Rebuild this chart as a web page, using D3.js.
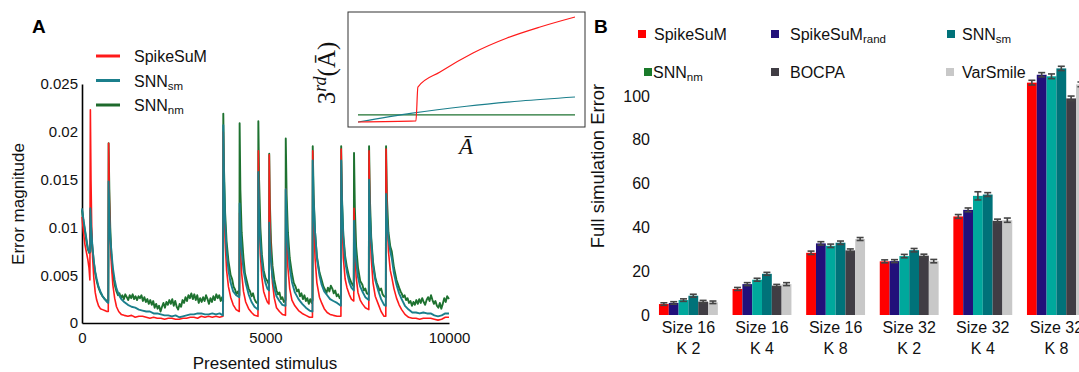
<!DOCTYPE html>
<html>
<head>
<meta charset="utf-8">
<script src="https://cdn.jsdelivr.net/npm/d3@7"></script>
<style>
  body { margin: 0; background: #fff; }
  svg { font-family: "Liberation Sans", Arial, sans-serif; display: block; }
</style>
</head>
<body>
<svg id="chart" width="1079" height="372"></svg>
<script>
// ---- Panel A: error magnitude over presented stimuli ----
const spikeSuM = [
  [0,0.0111],[40,0.0095],[80,0.0082],[120,0.0074],[160,0.0066],[190,0.0058],[215,0.0045],[228,0.0223],[245,0.0150],[265,0.0100],[290,0.0068],[320,0.0048],[360,0.0032],[400,0.0024],[450,0.0018],[500,0.0015],[560,0.0014],[620,0.0013],[680,0.0012],[716,0.0012],
  [725,0.0188],[745,0.0130],[770,0.0088],[800,0.0062],[840,0.0040],[890,0.0026],[940,0.0017],[1000,0.0012],[1070,0.0009],[1150,0.0008],[1250,0.0007],[1350,0.0008],[1450,0.0006],[1550,0.0007],[1650,0.0007],[1750,0.0006],[1850,0.0005],[1950,0.0006],[2050,0.0005],[2150,0.0005],[2250,0.0004],[2350,0.0005],[2450,0.0005],[2550,0.0004],[2650,0.0004],[2750,0.0005],[2850,0.0005],[2950,0.0006],[3050,0.0006],[3150,0.0005],[3250,0.0007],[3350,0.0006],[3450,0.0007],[3550,0.0006],[3650,0.0007],[3750,0.0006],[3840,0.0007],
  [3850,0.0200],[3870,0.0130],[3900,0.0085],[3940,0.0055],[3990,0.0038],[4050,0.0027],[4120,0.0019],[4200,0.0014],[4285,0.0012],
  [4295,0.0115],[4315,0.0080],[4350,0.0052],[4400,0.0033],[4460,0.0022],[4540,0.0015],[4620,0.0011],[4700,0.0008],[4795,0.0007],
  [4805,0.0180],[4825,0.0115],[4860,0.0072],[4900,0.0048],[4950,0.0033],[5000,0.0027],[5050,0.0022],[5095,0.0020],
  [5102,0.0176],[5120,0.0110],[5150,0.0068],[5190,0.0042],[5240,0.0026],[5300,0.0016],[5380,0.0012],[5460,0.0009],[5545,0.0008],
  [5552,0.0140],[5575,0.0090],[5610,0.0058],[5660,0.0036],[5720,0.0024],[5800,0.0018],[5900,0.0013],[6000,0.0010],[6100,0.0008],[6200,0.0006],[6280,0.0006],
  [6287,0.0180],[6310,0.0115],[6350,0.0068],[6400,0.0042],[6470,0.0027],[6530,0.0021],[6600,0.0015],[6680,0.0011],[6760,0.0009],[6850,0.0008],[6950,0.0007],[7055,0.0007],
  [7062,0.0182],[7085,0.0110],[7120,0.0068],[7170,0.0046],[7220,0.0037],[7280,0.0030],[7340,0.0025],[7405,0.0023],
  [7412,0.0120],[7435,0.0075],[7470,0.0048],[7520,0.0032],[7580,0.0024],[7640,0.0020],[7720,0.0016],[7815,0.0014],
  [7822,0.0180],[7845,0.0112],[7880,0.0068],[7930,0.0042],[7990,0.0028],[8070,0.0020],[8150,0.0012],[8230,0.0007],[8278,0.0007],
  [8285,0.0182],[8310,0.0115],[8350,0.0075],[8400,0.0055],[8440,0.0048],[8500,0.0036],[8570,0.0026],[8640,0.0019],[8710,0.0014],[8800,0.0009],[8900,0.0006],[9000,0.0005],[9100,0.0005],[9200,0.0004],[9300,0.0005],[9400,0.0005],[9500,0.0005],[9600,0.0004],[9700,0.0003],[9800,0.0004],[9900,0.0006],[10000,0.0006]
];

const snnSm = [
  [0,0.0120],[40,0.0108],[80,0.0098],[120,0.0088],[160,0.0078],[200,0.0074],[225,0.0075],[228,0.0120],[250,0.0100],[280,0.0082],[320,0.0065],[360,0.0054],[400,0.0046],[450,0.0038],[500,0.0033],[560,0.0028],[620,0.0025],[680,0.0022],[716,0.0021],
  [725,0.0148],[745,0.0115],[770,0.0090],[800,0.0075],[840,0.0058],[890,0.0045],[940,0.0036],[1000,0.0030],[1070,0.0025],[1150,0.0022],[1250,0.0019],[1350,0.0017],[1450,0.0016],[1550,0.0014],[1650,0.0013],[1750,0.0012],[1850,0.0012],[1950,0.0010],[2050,0.0010],[2150,0.0009],[2250,0.0008],[2350,0.0008],[2450,0.0007],[2550,0.0008],[2650,0.0006],[2750,0.0007],[2850,0.0008],[2950,0.0009],[3050,0.0009],[3150,0.0010],[3250,0.0010],[3350,0.0009],[3450,0.0009],[3550,0.0010],[3650,0.0009],[3750,0.0010],[3840,0.0008],
  [3850,0.0207],[3870,0.0150],[3900,0.0105],[3940,0.0075],[3990,0.0055],[4050,0.0042],[4120,0.0033],[4200,0.0029],[4285,0.0027],
  [4295,0.0125],[4315,0.0100],[4350,0.0075],[4400,0.0056],[4460,0.0042],[4540,0.0030],[4620,0.0022],[4700,0.0017],[4795,0.0014],
  [4805,0.0158],[4825,0.0115],[4860,0.0085],[4900,0.0065],[4950,0.0050],[5000,0.0042],[5050,0.0036],[5095,0.0034],
  [5102,0.0105],[5120,0.0085],[5150,0.0065],[5190,0.0048],[5240,0.0036],[5300,0.0028],[5380,0.0023],[5460,0.0019],[5545,0.0018],
  [5552,0.0140],[5575,0.0110],[5610,0.0080],[5660,0.0058],[5720,0.0043],[5800,0.0032],[5900,0.0025],[6000,0.0020],[6100,0.0016],[6200,0.0013],[6280,0.0012],
  [6287,0.0170],[6310,0.0130],[6350,0.0095],[6400,0.0068],[6470,0.0050],[6530,0.0040],[6600,0.0033],[6680,0.0029],[6760,0.0025],[6850,0.0023],[6950,0.0021],[7055,0.0018],
  [7062,0.0170],[7085,0.0125],[7120,0.0090],[7170,0.0065],[7220,0.0053],[7280,0.0043],[7340,0.0037],[7405,0.0034],
  [7412,0.0107],[7435,0.0085],[7470,0.0065],[7520,0.0048],[7580,0.0038],[7640,0.0033],[7720,0.0027],[7815,0.0024],
  [7822,0.0150],[7845,0.0115],[7880,0.0085],[7930,0.0060],[7990,0.0045],[8070,0.0034],[8150,0.0025],[8230,0.0019],[8278,0.0018],
  [8285,0.0135],[8310,0.0110],[8350,0.0088],[8400,0.0075],[8440,0.0068],[8500,0.0052],[8570,0.0040],[8640,0.0031],[8710,0.0025],[8800,0.0018],[8900,0.0014],[9000,0.0011],[9100,0.0011],[9200,0.0010],[9300,0.0011],[9400,0.0010],[9500,0.0010],[9600,0.0008],[9700,0.0007],[9800,0.0008],[9900,0.0010],[10000,0.0010]
];

const snnNm = [
  [0,0.0118],[40,0.0106],[80,0.0096],[120,0.0086],[160,0.0077],[200,0.0073],[225,0.0074],[228,0.0118],[250,0.0098],[280,0.0080],[320,0.0064],[360,0.0052],[400,0.0044],[450,0.0037],[500,0.0032],[560,0.0028],[620,0.0025],[680,0.0023],[716,0.0023],
  [725,0.0188],[745,0.0140],[770,0.0100],[800,0.0072],[840,0.0052],[890,0.0040],[940,0.0033],[980,0.0029],[1020,0.0031],[1060,0.0026],[1100,0.0029],[1140,0.0025],[1180,0.0030],[1220,0.0027],[1260,0.0024],[1300,0.0029],[1340,0.0026],[1380,0.0030],[1420,0.0025],[1460,0.0028],[1500,0.0024],[1540,0.0028],[1580,0.0026],[1620,0.0029],[1660,0.0023],[1700,0.0027],[1740,0.0022],[1780,0.0025],[1820,0.0020],[1860,0.0024],[1900,0.0019],[1940,0.0023],[1980,0.0016],[2020,0.0020],[2060,0.0015],[2100,0.0018],[2140,0.0012],[2180,0.0017],[2220,0.0021],[2260,0.0016],[2300,0.0022],[2340,0.0019],[2380,0.0024],[2420,0.0020],[2460,0.0025],[2500,0.0018],[2540,0.0023],[2580,0.0017],[2620,0.0014],[2660,0.0020],[2700,0.0017],[2740,0.0024],[2780,0.0021],[2820,0.0027],[2860,0.0023],[2900,0.0029],[2940,0.0026],[2980,0.0031],[3020,0.0025],[3060,0.0030],[3100,0.0024],[3140,0.0029],[3180,0.0021],[3220,0.0026],[3260,0.0022],[3300,0.0027],[3340,0.0023],[3380,0.0029],[3420,0.0025],[3460,0.0020],[3500,0.0026],[3540,0.0022],[3580,0.0028],[3620,0.0024],[3660,0.0030],[3700,0.0026],[3740,0.0029],[3780,0.0023],[3820,0.0027],[3845,0.0022],
  [3850,0.0219],[3870,0.0160],[3900,0.0115],[3940,0.0085],[3990,0.0065],[4050,0.0050],[4090,0.0046],[4130,0.0038],[4170,0.0035],[4210,0.0030],[4250,0.0033],[4288,0.0029],
  [4295,0.0209],[4315,0.0140],[4350,0.0095],[4400,0.0068],[4440,0.0052],[4490,0.0044],[4540,0.0036],[4580,0.0033],[4620,0.0028],[4660,0.0031],[4700,0.0025],[4740,0.0022],[4798,0.0020],
  [4805,0.0211],[4825,0.0150],[4860,0.0100],[4900,0.0072],[4950,0.0055],[5000,0.0047],[5050,0.0044],[5095,0.0040],
  [5102,0.0177],[5120,0.0125],[5150,0.0085],[5190,0.0060],[5240,0.0045],[5300,0.0034],[5340,0.0030],[5380,0.0032],[5420,0.0025],[5460,0.0027],[5500,0.0022],[5546,0.0024],
  [5552,0.0193],[5575,0.0135],[5610,0.0095],[5660,0.0068],[5720,0.0052],[5770,0.0042],[5820,0.0038],[5860,0.0033],[5900,0.0035],[5940,0.0028],[5980,0.0031],[6020,0.0025],[6060,0.0029],[6100,0.0023],[6140,0.0026],[6180,0.0020],[6220,0.0025],[6260,0.0021],[6282,0.0024],
  [6287,0.0185],[6310,0.0135],[6350,0.0095],[6400,0.0070],[6470,0.0053],[6530,0.0045],[6580,0.0038],[6620,0.0035],[6660,0.0031],[6700,0.0037],[6740,0.0033],[6780,0.0039],[6820,0.0036],[6860,0.0031],[6900,0.0034],[6940,0.0028],[6980,0.0030],[7020,0.0026],[7056,0.0028],
  [7062,0.0185],[7085,0.0130],[7120,0.0092],[7170,0.0070],[7220,0.0058],[7280,0.0048],[7340,0.0042],[7405,0.0038],
  [7412,0.0178],[7435,0.0120],[7470,0.0080],[7520,0.0058],[7580,0.0044],[7640,0.0040],[7680,0.0034],[7720,0.0036],[7760,0.0031],[7816,0.0030],
  [7822,0.0185],[7845,0.0130],[7880,0.0090],[7930,0.0064],[7990,0.0048],[8030,0.0042],[8070,0.0038],[8110,0.0034],[8150,0.0036],[8190,0.0030],[8230,0.0028],[8279,0.0027],
  [8285,0.0185],[8310,0.0130],[8350,0.0095],[8400,0.0080],[8440,0.0075],[8500,0.0058],[8570,0.0045],[8640,0.0037],[8680,0.0033],[8710,0.0031],[8750,0.0027],[8790,0.0029],[8830,0.0024],[8870,0.0026],[8910,0.0021],[8950,0.0023],[8990,0.0018],[9030,0.0022],[9070,0.0019],[9110,0.0024],[9150,0.0020],[9190,0.0025],[9230,0.0021],[9270,0.0026],[9310,0.0022],[9350,0.0019],[9390,0.0024],[9430,0.0027],[9470,0.0023],[9510,0.0029],[9550,0.0024],[9590,0.0020],[9630,0.0023],[9670,0.0018],[9710,0.0016],[9750,0.0021],[9790,0.0015],[9830,0.0020],[9870,0.0026],[9910,0.0022],[9950,0.0028],[10000,0.0025]
];

const errorTicks = [0, 0.005, 0.01, 0.015, 0.02, 0.025];
const stimulusTicks = [0, 5000, 10000];

// Inset: third-order term vs. mean activity (arbitrary units)
const insetRed = [[0,0],[0.267,0.01],[0.276,0.333],[0.378,0.476],[0.53,0.657],[0.687,0.8],[0.839,0.905],[1,1]];
const insetTeal = [[0,0],[0.25,0.085],[0.5,0.15],[0.75,0.2],[1,0.238]];
const insetGreen = [[0,0.067],[1,0.067]];

// ---- Panel B: full simulation error ----
const groups = ["Size 16|K 2", "Size 16|K 4", "Size 16|K 8", "Size 32|K 2", "Size 32|K 4", "Size 32|K 8"];
const methods = ["SpikeSuM", "SpikeSuMrand", "SNNnm", "SNNsm", "BOCPA", "VarSmile"];
const barColors = ["#ff0000", "#22107a", "#00a89c", "#007279", "#403d44", "#c8c8c8"];
const fullError = [
  [5.0, 5.5, 6.8, 8.8, 6.1, 5.8],
  [11.9, 14.1, 16.1, 18.8, 13.4, 14.1],
  [28.4, 32.7, 31.6, 33.0, 29.5, 34.7],
  [24.5, 24.6, 26.9, 29.6, 27.1, 24.6],
  [45.0, 48.0, 54.4, 55.0, 43.0, 43.3],
  [106.1, 109.7, 109.0, 112.6, 98.9, 105.3]
];
const fullErrorSd = [
  [0.3, 0.3, 0.3, 0.4, 0.3, 0.3],
  [0.4, 0.4, 0.4, 0.4, 0.3, 0.4],
  [0.5, 0.5, 0.5, 0.5, 0.4, 0.4],
  [0.4, 0.4, 0.5, 0.5, 0.4, 0.5],
  [0.6, 0.6, 1.6, 0.6, 0.5, 0.7],
  [0.8, 0.7, 0.8, 0.7, 0.8, 0.8]
];
const fullTicks = [0, 20, 40, 60, 80, 100];

const svg = d3.select("#chart");

// ================= Panel A =================
const xA = d3.scaleLinear().domain([0, 10000]).range([82, 449]);
const yA = d3.scaleLinear().domain([0, 0.025]).range([323, 84]);

const gA = svg.append("g").attr("id", "panelA");

gA.append("text").attr("x", 32).attr("y", 33)
  .attr("font-size", 19).attr("font-weight", "bold").text("A");

// axes (no tick marks, just labels)
const yAxisA = d3.axisLeft(yA).tickValues(errorTicks).tickSize(0).tickPadding(4)
  .tickFormat(d => d === 0 ? "0" : d3.format("")(+d.toFixed(3)));
gA.append("g").attr("transform", "translate(82,0)").call(yAxisA)
  .call(g => g.select(".domain").attr("stroke", "#000").attr("stroke-width", 1.6))
  .call(g => g.selectAll("text").attr("font-size", 15).attr("font-family", "Liberation Sans, Arial").attr("fill", "#111"));

const xAxisA = d3.axisBottom(xA).tickValues(stimulusTicks).tickSize(0).tickPadding(9)
  .tickFormat(d3.format("d"));
gA.append("g").attr("transform", "translate(0,323)").call(xAxisA)
  .call(g => g.select(".domain").attr("stroke", "#000").attr("stroke-width", 1.6))
  .call(g => g.selectAll("text").attr("font-size", 15).attr("font-family", "Liberation Sans, Arial").attr("fill", "#111"));

gA.append("text")
  .attr("transform", "translate(24,204) rotate(-90)")
  .attr("text-anchor", "middle").attr("font-size", 17).attr("fill", "#111")
  .text("Error magnitude");
gA.append("text")
  .attr("x", 265).attr("y", 369)
  .attr("text-anchor", "middle").attr("font-size", 17).attr("fill", "#111")
  .text("Presented stimulus");

// lines
const lineA = d3.line().x(d => xA(d[0])).y(d => yA(d[1]));
const seriesA = [
  { data: snnNm, color: "#1e7230", width: 1.9 },
  { data: spikeSuM, color: "#ff1a1a", width: 1.6 },
  { data: snnSm, color: "#1b7f8c", width: 1.9 }
];
gA.append("g").selectAll("path").data(seriesA).join("path")
  .attr("d", d => lineA(d.data))
  .attr("fill", "none")
  .attr("stroke", d => d.color)
  .attr("stroke-width", d => d.width)
  .attr("stroke-linejoin", "round");

// legend A
const legendA = [
  { name: "SpikeSuM", sub: "", color: "#ff1a1a" },
  { name: "SNN", sub: "sm", color: "#1b7f8c" },
  { name: "SNN", sub: "nm", color: "#1e6a2c" }
];
const legA = gA.append("g").selectAll("g").data(legendA).join("g")
  .attr("transform", (d, i) => `translate(96,${56 + i * 24.5})`);
legA.append("line").attr("x1", 0).attr("x2", 24)
  .attr("stroke", d => d.color).attr("stroke-width", 3);
const legAText = legA.append("text").attr("x", 38).attr("y", 6)
  .attr("font-size", 16).attr("fill", "#111");
legAText.append("tspan").text(d => d.name);
legAText.append("tspan").attr("font-size", 11.5).attr("dy", 3).text(d => d.sub);

// inset
const inset = svg.append("g").attr("id", "inset");
inset.append("rect").attr("x", 348).attr("y", 12).attr("width", 237).attr("height", 115)
  .attr("fill", "#fff").attr("stroke", "#333").attr("stroke-width", 1);
const xIn = d3.scaleLinear().domain([0, 1]).range([358, 575]);
const yIn = d3.scaleLinear().domain([0, 1]).range([122, 17]);
const lineIn = d3.line().x(d => xIn(d[0])).y(d => yIn(d[1])).curve(d3.curveMonotoneX);
inset.selectAll("path.curve")
  .data([
    { data: insetGreen, color: "#1e7230" },
    { data: insetTeal, color: "#1b7f8c" },
    { data: insetRed, color: "#ff1a1a" }
  ])
  .join("path").attr("class", "curve")
  .attr("d", d => lineIn(d.data))
  .attr("fill", "none").attr("stroke", d => d.color).attr("stroke-width", 1.2);

const insetY = inset.append("text")
  .attr("transform", "translate(335,73) rotate(-90)")
  .attr("text-anchor", "middle")
  .attr("font-family", "Liberation Serif, DejaVu Serif, serif")
  .attr("font-size", 25).attr("fill", "#111");
insetY.append("tspan").text("3");
insetY.append("tspan").attr("font-style", "italic").attr("font-size", 18).attr("dy", -9).text("rd");
insetY.append("tspan").attr("dy", 9).text("(\u0100)");
inset.append("text").attr("x", 466).attr("y", 154)
  .attr("text-anchor", "middle")
  .attr("font-family", "Liberation Serif, DejaVu Serif, serif")
  .attr("font-style", "italic").attr("font-size", 23).attr("fill", "#111")
  .text("\u0100");

// ================= Panel B =================
const gB = svg.append("g").attr("id", "panelB");
gB.append("text").attr("x", 594).attr("y", 33)
  .attr("font-size", 19).attr("font-weight", "bold").text("B");

const xB = d3.scaleBand().domain(groups).range([651.6, 1093.2]).paddingInner(0.2).paddingOuter(0.1);
const xMethod = d3.scaleBand().domain(methods).range([0, xB.bandwidth()]);
const yB = d3.scaleLinear().domain([0, 100]).range([315, 96]);

const yAxisB = d3.axisLeft(yB).tickValues(fullTicks).tickSize(0).tickPadding(0);
gB.append("g").attr("transform", "translate(650,0)").call(yAxisB)
  .call(g => g.select(".domain").remove())
  .call(g => g.selectAll("text").attr("font-size", 16).attr("font-family", "Liberation Sans, Arial").attr("fill", "#111"));

gB.append("text")
  .attr("transform", "translate(604,166) rotate(-90)")
  .attr("text-anchor", "middle").attr("font-size", 18.5).attr("fill", "#111")
  .text("Full simulation Error");

// group labels on two lines (the last one runs off the right edge, as in the figure)
const groupLabel = gB.append("g").selectAll("text").data(groups).join("text")
  .attr("text-anchor", "middle").attr("font-size", 16).attr("fill", "#111")
  .attr("transform", d => `translate(${xB(d) + xB.bandwidth() / 2},0)`);
groupLabel.append("tspan").attr("x", 0).attr("y", 333).text(d => d.split("|")[0]);
groupLabel.append("tspan").attr("x", 0).attr("y", 354).text(d => d.split("|")[1]);

// bars
const barRows = groups.flatMap((g, gi) => methods.map((m, mi) => ({
  group: g, method: m, color: barColors[mi], value: fullError[gi][mi], sd: fullErrorSd[gi][mi]
})));
const barG = gB.append("g");
barG.selectAll("rect").data(barRows).join("rect")
  .attr("x", d => xB(d.group) + xMethod(d.method))
  .attr("y", d => yB(d.value))
  .attr("width", xMethod.bandwidth())
  .attr("height", d => yB(0) - yB(d.value))
  .attr("fill", d => d.color);

// error bars
const errG = barG.append("g").attr("stroke", "#444").attr("stroke-width", 1.6);
const errs = errG.selectAll("g").data(barRows).join("g")
  .attr("transform", d => `translate(${xB(d.group) + xMethod(d.method) + xMethod.bandwidth() / 2},0)`);
errs.append("line").attr("y1", d => yB(d.value - d.sd) + 0.6).attr("y2", d => yB(d.value + d.sd) - 0.6);
errs.append("line").attr("x1", -3.5).attr("x2", 3.5)
  .attr("y1", d => yB(d.value + d.sd) - 0.6).attr("y2", d => yB(d.value + d.sd) - 0.6);
errs.append("line").attr("x1", -3.5).attr("x2", 3.5)
  .attr("y1", d => yB(d.value - d.sd) + 0.6).attr("y2", d => yB(d.value - d.sd) + 0.6);

// legend B
const legendB = [
  { name: "SpikeSuM", sub: "", color: "#ff0000", sx: 638, tx: 654, y: 34 },
  { name: "SpikeSuM", sub: "rand", color: "#22107a", sx: 771, tx: 790, y: 34 },
  { name: "SNN", sub: "sm", color: "#007279", sx: 947, tx: 962, y: 34 },
  { name: "SNN", sub: "nm", color: "#1a7a2a", sx: 644, tx: 653, y: 72 },
  { name: "BOCPA", sub: "", color: "#403d44", sx: 771, tx: 790, y: 72 },
  { name: "VarSmile", sub: "", color: "#c8c8c8", sx: 946, tx: 962, y: 72 }
];
const legB = gB.append("g").selectAll("g").data(legendB).join("g");
legB.append("rect")
  .attr("x", d => d.sx).attr("y", d => d.y - 4).attr("width", 8).attr("height", 8)
  .attr("fill", d => d.color);
const legBText = legB.append("text")
  .attr("x", d => d.tx).attr("y", d => d.y + 6)
  .attr("font-size", 16).attr("fill", "#111");
legBText.append("tspan").text(d => d.name);
legBText.append("tspan").attr("font-size", 11.5).attr("dy", 3).text(d => d.sub);
</script>
</body>
</html>
